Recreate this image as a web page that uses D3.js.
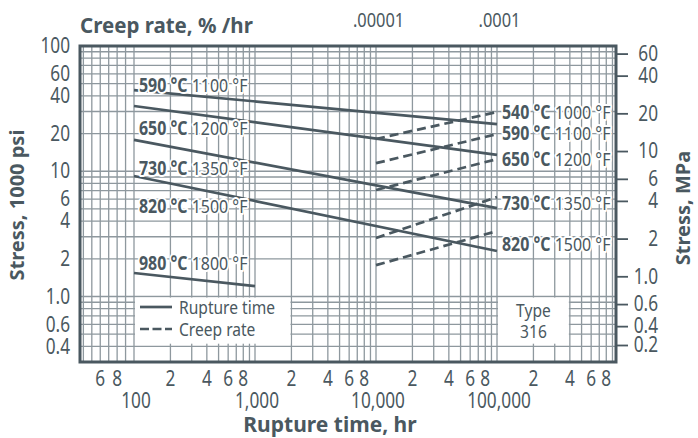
<!DOCTYPE html>
<html><head><meta charset="utf-8">
<script src="https://cdn.jsdelivr.net/npm/d3@7/dist/d3.min.js"></script>
<style>
body{margin:0;background:#fff;}
svg text{font-family:'Noto Sans','Open Sans',sans-serif;fill:#4a5860;}
</style></head><body>
<svg id="c" width="698" height="438"></svg>
<script>
// ---- data ----
const ruptureTempC = ["590", "650", "730", "820", "980"];
const ruptureTempF = ["1100", "1200", "1350", "1500", "1800"];
const ruptureStartTime = [100, 100, 100, 100, 100];          // hr
const ruptureStartStress = [44.5, 33.2, 17.8, 9.16, 1.54];    // 1000 psi
const ruptureEndTime = [100000, 100000, 100000, 100000, 1000];
const ruptureEndStress = [23.8, 13.5, 5.08, 2.31, 1.21];
const ruptureLabelStress = [48.8, 22.1, 10.6, 5.27, 1.85];

const creepTempC = ["540", "590", "650", "730", "820"];
const creepTempF = ["1000", "1100", "1200", "1350", "1500"];
const creepStartRate = [0.00001, 0.00001, 0.00001, 0.00001, 0.00001]; // %/hr
const creepStartStress = [18.1, 11.6, 7.08, 2.93, 1.78];
const creepEndRate = [0.0001, 0.0001, 0.0001, 0.0001, 0.0001];
const creepEndStress = [29.7, 19.8, 12.5, 6.22, 3.33];
const creepLabelStress = [29.7, 20.2, 12.5, 5.57, 2.62];

const leftTicks = [100, 60, 40, 20, 10, 6, 4, 2, 1.0, 0.6, 0.4];
const leftTickLabels = ["100", "60", "40", "20", "10", "6", "4", "2", "1.0", "0.6", "0.4"];
const rightTicks = [60, 40, 20, 10, 6, 4, 2, 1.0, 0.6, 0.4, 0.2];
const rightTickLabels = ["60", "40", "20", "10", "6", "4", "2", "1.0", "0.6", "0.4", "0.2"];
const bottomMinorTicks = [60, 80, 200, 400, 600, 800, 2000, 4000, 6000, 8000, 20000, 40000, 60000, 80000, 200000, 400000, 600000, 800000];
const bottomMinorLabels = ["6", "8", "2", "4", "6", "8", "2", "4", "6", "8", "2", "4", "6", "8", "2", "4", "6", "8"];
const bottomMajorTicks = [100, 1000, 10000, 100000];
const bottomMajorLabels = ["100", "1,000", "10,000", "100,000"];
const topTicks = [0.00001, 0.0001];
const topTickLabels = [".00001", ".0001"];

// ---- scales ----
const C = {ink: "#4a5860", grid: "#8e989e"};
const SX = 0.82; // condensed look
const svg = d3.select("#c");
const L = 80, R = 616, T = 46, B = 362;
const xLog = d3.scaleLog().domain([100, 100000]).range([134, 497]);
const xLin = d3.scaleLinear().domain([36, 100]).range([L, 134]);
const x = v => v < 100 ? xLin(v) : xLog(v);
const xMax = xLog.invert(R);
const xTop = d3.scaleLog().domain([1e-5, 1e-4]).range([xLog(1e4), xLog(1e5)]);
const y = d3.scaleLog().domain([0.3, 100]).range([B, T]);
const yR = d3.scaleLog().domain([0.2, 0.4, 60]).range([345, y(0.4 * 1.45), y(60 * 1.45)]);

// condensed text helper
function ct(sel, xp, yp, sx = SX) {
  return sel.attr("x", 0).attr("y", 0).attr("transform", `translate(${xp},${yp}) scale(${sx},1)`);
}

// ---- grid ----
const vGrid = [40, 50, 60, 70, 80, 90];
[100, 1000, 10000, 100000].forEach(d => { for (let k = 1; k <= 9; k++) if (k * d <= xMax) vGrid.push(k * d); });
const hGrid = [];
[0.1, 1, 10].forEach(d => { for (let k = 1; k <= 9; k++) { const v = +(k * d).toFixed(3); if (v >= 0.4) hGrid.push(v); } });
const gridG = svg.append("g");
gridG.selectAll("line.v").data(vGrid).join("line")
  .attr("x1", d => x(d)).attr("x2", d => x(d)).attr("y1", T).attr("y2", B)
  .attr("stroke", C.grid).attr("stroke-width", 1.3);
gridG.selectAll("line.h").data(hGrid).join("line")
  .attr("x1", L).attr("x2", R).attr("y1", d => y(d)).attr("y2", d => y(d))
  .attr("stroke", C.grid).attr("stroke-width", 1.3);

// white boxes (legend, type)
svg.append("rect").attr("x", x(100) + 1).attr("y", y(0.98)).attr("width", x(2000) - x(100) - 2).attr("height", y(0.42) - y(0.98)).attr("fill", "#fff");
svg.append("rect").attr("x", x(100000) + 1).attr("y", y(0.98)).attr("width", x(400000) - x(100000) - 2).attr("height", y(0.42) - y(0.98)).attr("fill", "#fff");

// ---- data lines ----
const linesG = svg.append("g").attr("stroke", C.ink).attr("stroke-width", 2.7).attr("fill", "none");
ruptureTempC.forEach((t, i) => {
  linesG.append("line")
    .attr("x1", x(ruptureStartTime[i])).attr("y1", y(ruptureStartStress[i]))
    .attr("x2", x(ruptureEndTime[i])).attr("y2", y(ruptureEndStress[i]));
});
creepTempC.forEach((t, i) => {
  linesG.append("line").attr("stroke-dasharray", "9,5")
    .attr("x1", xTop(creepStartRate[i])).attr("y1", y(creepStartStress[i]))
    .attr("x2", xTop(creepEndRate[i])).attr("y2", y(creepEndStress[i]));
});

// ---- curve labels ----
function tempLabel(xp, yp, c, f) {
  const t = ct(svg.append("text"), xp, yp, 0.84).attr("dy", "0.36em")
    .attr("font-size", 19).attr("stroke", "#fff").attr("stroke-width", 4)
    .attr("paint-order", "stroke").attr("stroke-linejoin", "round");
  t.append("tspan").attr("font-weight", "bold").text(c + " °C");
  t.append("tspan").text(" " + f + " °F");
}
ruptureTempC.forEach((c, i) => tempLabel(x(100) + 5, y(ruptureLabelStress[i]), c, ruptureTempF[i]));
creepTempC.forEach((c, i) => tempLabel(x(100000) + 5, y(creepLabelStress[i]), c, creepTempF[i]));

// ---- legend ----
const lg = svg.append("g");
lg.append("line").attr("x1", 140).attr("x2", 172).attr("y1", 307).attr("y2", 307).attr("stroke", C.ink).attr("stroke-width", 2.7);
lg.append("line").attr("x1", 140).attr("x2", 172).attr("y1", 329).attr("y2", 329).attr("stroke", C.ink).attr("stroke-width", 2.7).attr("stroke-dasharray", "9,3.5");
ct(lg.append("text"), 179, 307).attr("dy", "0.36em").attr("font-size", 19).text("Rupture time");
ct(lg.append("text"), 179, 329).attr("dy", "0.36em").attr("font-size", 19).text("Creep rate");
ct(svg.append("text"), x(200000), 310).attr("dy", "0.36em").attr("text-anchor", "middle").attr("font-size", 19).text("Type");
ct(svg.append("text"), x(200000), 331).attr("dy", "0.36em").attr("text-anchor", "middle").attr("font-size", 19).text("316");

// ---- frame ----
svg.append("rect").attr("x", L).attr("y", T).attr("width", R - L).attr("height", B - T)
  .attr("fill", "none").attr("stroke", C.ink).attr("stroke-width", 3);

// ---- axes ----
const leftAx = svg.append("g").attr("transform", `translate(${L - 10},0)`)
  .call(d3.axisLeft(y).tickValues(leftTicks).tickSize(0).tickFormat((d, i) => leftTickLabels[i]));
leftAx.select(".domain").remove();
leftAx.selectAll("text").attr("font-size", 21).attr("fill", C.ink).attr("font-family", null)
  .attr("x", 0).attr("transform", `scale(${SX},1)`);

const rightAx = svg.append("g").attr("transform", `translate(${R},0)`)
  .call(d3.axisRight(yR).tickValues(rightTicks).tickSize(12).tickFormat((d, i) => rightTickLabels[i]));
rightAx.select(".domain").remove();
rightAx.selectAll("line").attr("stroke", C.ink).attr("stroke-width", 1.8);
rightAx.selectAll("text").attr("font-size", 21).attr("fill", C.ink).attr("text-anchor", "end").attr("font-family", null)
  .attr("x", 0).attr("transform", `translate(42,0) scale(${SX},1)`);

const topAx = svg.append("g").attr("transform", `translate(2,${T - 16})`)
  .call(d3.axisTop(xTop).tickValues(topTicks).tickSize(0).tickFormat((d, i) => topTickLabels[i]));
topAx.select(".domain").remove();
topAx.selectAll("text").attr("font-size", 20).attr("fill", C.ink).attr("font-family", null)
  .attr("transform", `scale(${SX},1)`);

const bx = svg.append("g");
bx.selectAll("text.mi").data(bottomMinorTicks).join("text")
  .each(function (d) { ct(d3.select(this), x(d), 386); })
  .attr("text-anchor", "middle").attr("font-size", 21)
  .text((d, i) => bottomMinorLabels[i]);
bx.selectAll("text.ma").data(bottomMajorTicks).join("text")
  .each(function (d) { ct(d3.select(this), x(d) + 2, 408); })
  .attr("text-anchor", "middle").attr("font-size", 21)
  .text((d, i) => bottomMajorLabels[i]);

// ---- titles ----
svg.append("text").attr("x", 330).attr("y", 432).attr("text-anchor", "middle")
  .attr("font-size", 21).attr("font-weight", "bold").text("Rupture time, hr");
svg.append("text").attr("x", L).attr("y", 33)
  .attr("font-size", 20.5).attr("font-weight", "bold").text("Creep rate, % /hr");
svg.append("text").attr("transform", "translate(24,205) rotate(-90)").attr("text-anchor", "middle")
  .attr("font-size", 20).attr("font-weight", "bold").text("Stress, 1000 psi");
svg.append("text").attr("transform", "translate(690,208) rotate(-90)").attr("text-anchor", "middle")
  .attr("font-size", 20).attr("font-weight", "bold").text("Stress, MPa");
</script>
</body></html>
